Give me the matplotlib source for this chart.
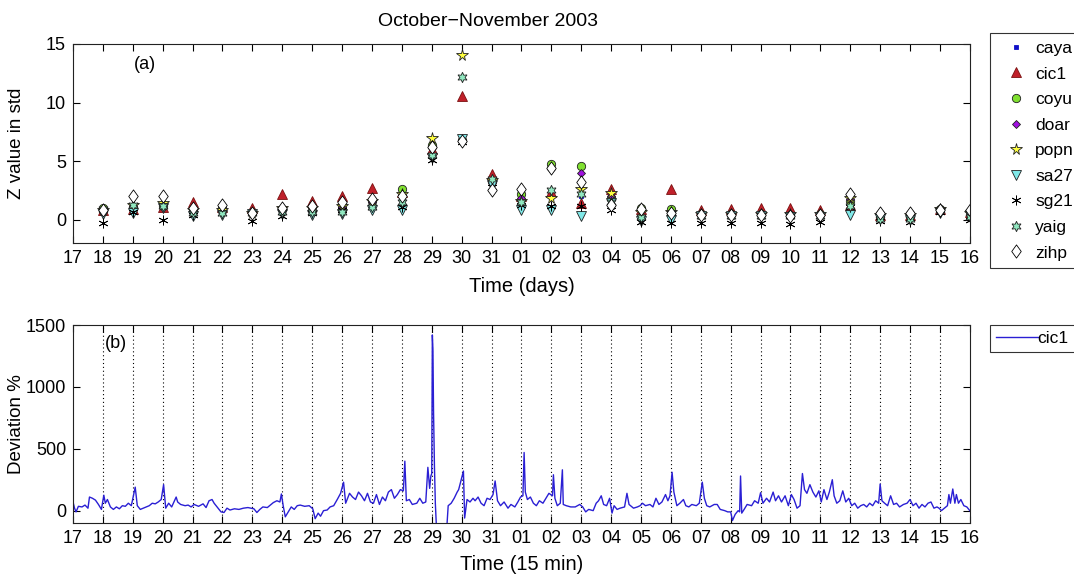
import numpy as np
import matplotlib
matplotlib.use("Agg")
import matplotlib.pyplot as plt
from matplotlib.path import Path

plt.rcParams['font.family'] = ['Liberation Sans', 'DejaVu Sans']
plt.rcParams['font.size'] = 13

# ---- day labels: 17 Oct .. 16 Nov 2003 ----
day_labels = ['17', '18', '19', '20', '21', '22', '23', '24', '25', '26', '27', '28',
              '29', '30', '31', '01', '02', '03', '04', '05', '06', '07', '08', '09',
              '10', '11', '12', '13', '14', '15', '16']

# ---- (a) daily Z values (std) for 18 Oct .. 16 Nov ----
stations = ['caya', 'cic1', 'coyu', 'doar', 'popn', 'sa27', 'sg21', 'yaig', 'zihp']
z_caya = [0.7, 1.0, 1.0, 0.7, 0.8, 0.5, 0.8, 0.9, 1.0, 1.4, 1.6, 5.8, 6.6, 3.2, 1.8,
          2.2, 2.0, 1.6, 0.5, 0.5, 0.4, 0.4, 0.4, 0.4, 0.4, 1.5, 0.3, 0.3, 0.7, 0.5]
z_cic1 = [0.8, 0.9, 1.1, 1.5, 1.1, 1.0, 2.2, 1.6, 2.0, 2.7, 2.4, 6.0, 10.6, 3.9, 2.0,
          2.4, 1.4, 2.6, 0.9, 2.6, 0.8, 0.9, 1.0, 1.0, 0.8, 1.3, 0.4, 0.4, 0.9, 0.7]
z_coyu = [1.0, 1.1, 1.2, 0.9, 1.0, 0.7, 0.9, 1.1, 1.2, 1.6, 2.6, 6.4, 6.8, 3.3, 2.2,
          4.8, 4.6, 1.9, 1.0, 0.9, 0.5, 0.5, 0.5, 0.4, 0.5, 1.6, 0.5, 0.5, 0.9, 0.7]
z_doar = [0.7, 1.2, 1.3, 0.8, 0.9, 0.6, 0.9, 1.0, 1.1, 1.5, 2.1, 6.1, 6.7, 3.1, 1.9,
          4.3, 4.0, 2.0, 0.8, 0.6, 0.6, 0.6, 0.6, 0.5, 0.5, 1.8, 0.5, 0.4, 1.0, 0.6]
z_popn = [0.8, 1.3, 1.4, 0.8, 0.8, 0.6, 1.0, 1.0, 1.2, 1.6, 2.2, 7.0, 14.1, 3.4, 1.6,
          1.9, 2.6, 2.3, 0.7, 0.7, 0.5, 0.5, 0.5, 0.5, 0.5, 1.9, 0.4, 0.4, 0.9, 0.6]
z_sa27 = [0.5, 0.6, 1.0, 0.3, 0.4, 0.5, 0.5, 0.4, 0.5, 0.8, 0.8, 5.3, 6.9, 3.0, 0.8,
          0.8, 0.3, 1.4, -0.1, 0.0, 0.3, 0.3, 0.3, 0.2, 0.2, 0.4, 0.1, 0.0, 0.6, 0.4]
z_sg21 = [-0.3, 0.7, 0.0, 0.4, 0.6, -0.1, 0.3, 0.6, 0.8, 1.1, 1.1, 5.1, 6.6, 2.8, 1.3,
          1.2, 1.2, 0.8, -0.2, -0.3, -0.3, -0.3, -0.3, -0.4, -0.2, 1.1, -0.1, -0.2, 0.7, 0.0]
z_yaig = [0.9, 1.3, 1.2, 0.6, 0.6, 0.6, 0.7, 0.7, 0.7, 1.1, 1.5, 5.5, 12.2, 3.5, 1.5,
          2.5, 2.2, 1.5, 0.2, 0.6, 0.3, 0.3, 0.3, 0.3, 0.3, 1.2, 0.1, 0.1, 0.8, 0.2]
z_zihp = [0.8, 2.0, 2.0, 1.0, 1.3, 0.6, 1.0, 1.2, 1.5, 1.8, 2.0, 6.2, 6.7, 2.5, 2.6,
          4.4, 3.2, 1.3, 0.9, 0.6, 0.4, 0.4, 0.4, 0.3, 0.4, 2.2, 0.6, 0.6, 0.8, 0.8]

# ---- (b) cic1 deviation (%), time in days since 17 Oct 00:00 ----
dev_time = [
    0.00, 0.05, 0.10, 0.18, 0.30, 0.40, 0.50, 0.55, 0.65, 0.75, 0.85, 0.95,
    1.03, 1.08, 1.15, 1.25, 1.35, 1.45, 1.55, 1.65, 1.75, 1.85, 1.95,
    2.08, 2.15, 2.25, 2.35, 2.45, 2.55, 2.65, 2.75, 2.85, 2.95,
    3.03, 3.10, 3.20, 3.30, 3.45, 3.50, 3.60, 3.75, 3.85, 3.95,
    4.05, 4.20, 4.35, 4.45, 4.55, 4.65, 4.72, 4.85, 4.95,
    5.05, 5.15, 5.25, 5.40, 5.55, 5.70, 5.85, 5.95,
    6.05, 6.15, 6.25, 6.35, 6.50, 6.60, 6.70, 6.82, 6.92, 6.97,
    7.03, 7.10, 7.20, 7.30, 7.40, 7.50, 7.60, 7.75, 7.90,
    8.02, 8.10, 8.20, 8.28, 8.38, 8.50, 8.60, 8.72, 8.85, 8.95,
    9.05, 9.12, 9.25, 9.35, 9.45, 9.55, 9.65, 9.75, 9.85, 9.95,
    10.05, 10.15, 10.25, 10.35, 10.45, 10.55, 10.65, 10.75, 10.85, 10.95,
    11.05, 11.10, 11.15, 11.25, 11.35, 11.50, 11.60, 11.70, 11.80, 11.87, 11.93, 11.97,
    12.00, 12.02, 12.04, 12.06, 12.09, 12.12, 12.16, 12.30, 12.50, 12.55, 12.65, 12.75, 12.85, 12.90,
    13.06, 13.10, 13.18, 13.28, 13.38, 13.45, 13.55, 13.65, 13.75, 13.85, 13.95,
    14.05, 14.12, 14.20, 14.30, 14.42, 14.55, 14.65, 14.78, 14.88, 14.97,
    15.05, 15.09, 15.13, 15.20, 15.30, 15.40, 15.50, 15.60, 15.72, 15.82, 15.92,
    16.04, 16.07, 16.12, 16.20, 16.30, 16.37, 16.40, 16.50, 16.65, 16.80, 16.95,
    17.05, 17.15, 17.25, 17.40, 17.50, 17.58, 17.67, 17.75, 17.85, 17.95,
    18.03, 18.10, 18.20, 18.30, 18.45, 18.53, 18.60, 18.75, 18.88, 18.97,
    19.05, 19.15, 19.30, 19.40, 19.50, 19.60, 19.70, 19.82, 19.90, 19.97,
    20.04, 20.10, 20.20, 20.30, 20.42, 20.50, 20.60, 20.70, 20.85, 20.95,
    21.05, 21.12, 21.20, 21.30, 21.45, 21.55, 21.65, 21.80, 21.90,
    22.00, 22.06, 22.15, 22.25, 22.30, 22.33, 22.37, 22.45, 22.55, 22.70, 22.80, 22.92,
    23.00, 23.08, 23.20, 23.30, 23.42, 23.50, 23.60, 23.70, 23.82, 23.93,
    24.03, 24.12, 24.22, 24.32, 24.40, 24.47, 24.55, 24.65, 24.75, 24.85, 24.95,
    25.03, 25.12, 25.22, 25.30, 25.40, 25.46, 25.55, 25.65, 25.75, 25.85, 25.95,
    26.05, 26.15, 26.25, 26.35, 26.45, 26.55, 26.65, 26.75, 26.85, 26.95,
    27.00, 27.06, 27.15, 27.25, 27.35, 27.45, 27.55, 27.65, 27.78, 27.90,
    28.00, 28.10, 28.20, 28.30, 28.40, 28.50, 28.60, 28.70, 28.80, 28.90, 28.97,
    29.05, 29.15, 29.25, 29.30, 29.35, 29.43, 29.50, 29.55, 29.62, 29.70, 29.80, 29.90, 30.00,
]
dev_pct = [
    70, 20, -10, 35, 30, 45, 20, 110, 100, 85, 50, 10,
    125, 60, 90, 30, 10, 30, 15, 40, 35, 60, 40,
    190, 40, 10, 20, 30, 40, 60, 55, 70, 90,
    210, 20, 60, 30, 110, 70, 50, 40, 45, 30,
    50, 35, 55, 25, 80, 90, 60, 20, -10,
    -15, 20, 5, 15, 10, 20, 25, 20,
    15, -15, 10, 30, 25, 45, 65, 80, 70, 135,
    40, -50, -10, 30, 10, 40, 45, 35, 40,
    15, -65, -20, -45, 0, 5, 30, 40, 95, 140,
    230, 60, 140, 110, 90, 150, 120, 80, 140, 70,
    60, 130, 50, 110, 80, 150, 170, 100, 130, 170,
    160, 400, 80, 90, 50, 60, 100, 60, 70, 350, 180, 280,
    300, 1420, 1300, 800, 360, 60, -150, -150, -150, 40, 60, 100, 150, 170,
    320, -60, 90, 70, 100, 80, 110, 60, 40, 100, 90,
    130, 240, 80, 40, 70, 20, 50, 30, 70, 110,
    120, 470, 150, 90, 110, 60, 40, 80, 60, 100, 140,
    120, 290, 100, 40, 60, 330, 50, 40, 30, 30, 50,
    30, -10, 10, 0, 60, 80, 120, 50, 40, 100,
    -20, 40, 10, 20, 30, 140, 50, 20, 30, 40,
    60, 40, 50, 30, 100, 50, 70, 130, 80, 120,
    310, 150, 40, 60, 90, 40, 30, 50, 40, 60,
    230, 100, 40, 30, 50, 50, 10, 0, -10,
    -10, -80, -30, 0, -10, 280, -20, 10, 50, 40, 80, 60,
    145, 60, 100, 70, 150, 80, 120, 70, 120, 40,
    130, 90, 20, 40, 300, 170, 140, 210, 150, 110, 160,
    70, 170, 90, 150, 250, 120, 60, 80, 160, 70, 100,
    40, 60, 20, 40, 50, 30, 60, 40, 80, 60,
    215, 80, 60, 40, 120, 50, 60, 30, 50, 60,
    90, 40, 60, 20, 50, 30, 60, 70, 20, 30, 20,
    0, 20, 40, 130, 60, 175, 60, 130, 60, 90, 40, 30, 0,
]

# slightly tall diamond marker
tall_diamond = Path([(0, 1), (0.72, 0), (0, -1), (-0.72, 0), (0, 1)],
                    [Path.MOVETO, Path.LINETO, Path.LINETO, Path.LINETO, Path.CLOSEPOLY])

series = [z_caya, z_cic1, z_coyu, z_doar, z_popn, z_sa27, z_sg21, z_yaig, z_zihp]
styles = [
    dict(marker='s', mfc='#1010c8', mec='#1010c8', ms=3.5),
    dict(marker='^', mfc='#c0202a', mec='#7a1010', ms=6.5),
    dict(marker='o', mfc='#80e030', mec='#202020', ms=6),
    dict(marker='D', mfc='#a010e0', mec='#202020', ms=4.5),
    dict(marker='*', mfc='#ffff40', mec='#202020', ms=8.5),
    dict(marker='v', mfc='#80e8e8', mec='#202020', ms=6.5),
    dict(marker=(6, 2, 0), mfc='black', mec='black', ms=7),
    dict(marker=(6, 1, 0), mfc='#90e8c0', mec='#202020', ms=7.5),
    dict(marker=tall_diamond, mfc='white', mec='black', ms=9.5),
]

fig = plt.figure(figsize=(10.74, 5.75), dpi=100)
ax1 = fig.add_axes([0.068, 0.577, 0.835, 0.3465])
ax2 = fig.add_axes([0.068, 0.0904, 0.835, 0.3443])

x_days = np.arange(1, 31)
for name, vals, st in zip(stations, series, styles):
    ax1.plot(x_days, vals, linestyle='none', label=name, mew=0.6, **st)

for ax in (ax1, ax2):
    ax.set_xlim(0, 30)
    ax.set_xticks(np.arange(0, 31))
    ax.set_xticklabels(day_labels)
    ax.tick_params(direction='in', top=True, right=True, length=5, width=0.8,
                   labelsize=13, pad=5)
    for sp in ax.spines.values():
        sp.set_linewidth(0.8)
        sp.set_color('#222222')

ax1.set_ylim(-2, 15)
ax1.set_yticks([0, 5, 10, 15])
ax1.set_ylabel('Z value in std', fontsize=13.5)
ax1.yaxis.set_label_coords(-0.054, 0.5)
ax1.set_xlabel('Time (days)', fontsize=14.5, labelpad=7)
ax1.set_title('October\u2212November 2003', fontsize=14, pad=13, x=0.463)
ax1.text(0.068, 0.875, '(a)', transform=ax1.transAxes, fontsize=13)

leg1 = ax1.legend(loc='upper left', bbox_to_anchor=(990 / 1074, 1 - 33 / 575),
                  bbox_transform=fig.transFigure, frameon=True, fancybox=False,
                  edgecolor='black', fontsize=12.5, handlelength=2.1,
                  handletextpad=0.05, labelspacing=0.6, borderpad=0.45,
                  borderaxespad=0)
leg1.get_frame().set_linewidth(0.8)

# dotted day separators
for d in range(1, 30):
    ax2.axvline(d, color='black', linestyle=(0, (1, 2.5)), linewidth=0.8, zorder=1)
ax2.plot(dev_time, dev_pct, color='#2a1fd4', linewidth=1.0, label='cic1', zorder=2)
ax2.set_ylim(-100, 1500)
ax2.set_yticks([0, 500, 1000, 1500])
ax2.set_ylabel('Deviation %', fontsize=13.5)
ax2.yaxis.set_label_coords(-0.054, 0.5)
ax2.set_xlabel('Time (15 min)', fontsize=14.5, labelpad=6)
ax2.text(0.035, 0.885, '(b)', transform=ax2.transAxes, fontsize=13)

leg2 = ax2.legend(loc='upper left', bbox_to_anchor=(990 / 1074, 1 - 325 / 575),
                  bbox_transform=fig.transFigure, frameon=True, fancybox=False,
                  edgecolor='black', fontsize=12.5, handlelength=2.4,
                  handletextpad=0.0, borderpad=0.35, borderaxespad=0)
leg2.get_frame().set_linewidth(0.8)

fig.savefig('out.png', dpi=100)
